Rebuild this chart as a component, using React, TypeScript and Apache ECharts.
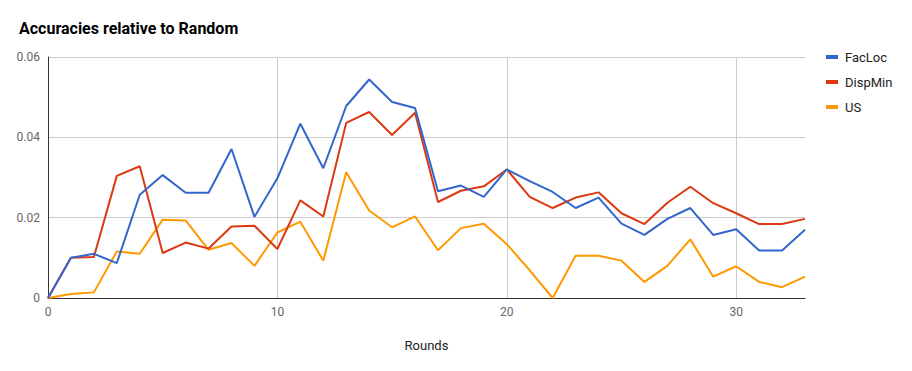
import React, { useEffect, useRef } from "react";
import * as echarts from "echarts";

const rounds = Array.from({ length: 34 }, (_, i) => i);
const facLoc = [0, 0.0100, 0.0110, 0.0087, 0.0257, 0.0306, 0.0262, 0.0262, 0.0371, 0.0202, 0.0298,
  0.0434, 0.0323, 0.0478, 0.0544, 0.0488, 0.0473, 0.0266, 0.0280, 0.0252, 0.0320,
  0.0291, 0.0264, 0.0224, 0.0250, 0.0185, 0.0157, 0.0197, 0.0224, 0.0157, 0.0171, 0.0118, 0.0118, 0.0170];
const dispMin = [0, 0.0100, 0.0102, 0.0304, 0.0328, 0.0112, 0.0138, 0.0123, 0.0178, 0.0180, 0.0122,
  0.0243, 0.0203, 0.0436, 0.0463, 0.0406, 0.0461, 0.0239, 0.0267, 0.0278, 0.0320,
  0.0252, 0.0224, 0.0250, 0.0263, 0.0211, 0.0184, 0.0237, 0.0277, 0.0236, 0.0211, 0.0184, 0.0184, 0.0197];
const us = [0, 0.0010, 0.0014, 0.0116, 0.0110, 0.0195, 0.0193, 0.0120, 0.0137, 0.0080, 0.0163,
  0.0190, 0.0093, 0.0313, 0.0218, 0.0176, 0.0203, 0.0119, 0.0174, 0.0185, 0.0134,
  0.0069, 0, 0.0105, 0.0105, 0.0093, 0.0040, 0.0080, 0.0146, 0.0053, 0.0079, 0.0040, 0.0027, 0.0053];
const seriesNames = ["FacLoc", "DispMin", "US"];
const colors = ["#3366cc", "#dc3912", "#ff9900"];

export default function App() {
  const ref = useRef<HTMLDivElement>(null);
  useEffect(() => {
    const chart = echarts.init(ref.current!, null, { renderer: "svg" });
    const all = [facLoc, dispMin, us];
    chart.setOption({
      animation: false,
      textStyle: { fontFamily: "Roboto" },
      title: {
        text: "Accuracies relative to Random",
        left: 6,
        top: 7,
        textStyle: { fontSize: 16, fontWeight: "bold", color: "#000", fontFamily: "Roboto" },
      },
      legend: {
        orient: "vertical",
        left: 813,
        top: 36,
        itemWidth: 12,
        itemHeight: 4,
        itemGap: 9,
        icon: "rect",
        textStyle: { fontSize: 13, color: "#222", lineHeight: 16, fontFamily: "Roboto", padding: [0, 0, 0, 2] },
        data: seriesNames,
      },
      grid: { left: 40, right: 99, top: 49, bottom: 65 },
      xAxis: {
        type: "value",
        min: 0,
        max: 33,
        interval: 10,
        name: "Rounds",
        nameLocation: "middle",
        nameGap: 41,
        nameTextStyle: { fontSize: 13, color: "#222" },
        axisLine: { show: true, lineStyle: { color: "#333", width: 1 } },
        axisTick: { show: false },
        axisLabel: { color: "#666", fontSize: 12, margin: 8, showMaxLabel: false },
        splitLine: { show: true, showMinLine: false, showMaxLine: false, lineStyle: { color: "#ccc", width: 1 } },
      },
      yAxis: {
        type: "value",
        min: 0,
        max: 0.06,
        interval: 0.02,
        axisLine: { show: true, lineStyle: { color: "#333", width: 1 } },
        axisTick: { show: false },
        axisLabel: {
          color: "#666",
          fontSize: 12,
          margin: 8,
          formatter: (v: number) => (v === 0 ? "0" : v.toFixed(2)),
        },
        splitLine: { show: true, showMinLine: false, lineStyle: { color: "#ccc", width: 1 } },
      },
      series: seriesNames.map((name, k) => ({
        name,
        type: "line",
        data: rounds.map((r, i) => [r, all[k][i]]),
        showSymbol: false,
        symbol: "none",
        color: colors[k],
        lineStyle: { width: 2, color: colors[k] },
        z: 3 - k + 2,
      })),
    });
    return () => chart.dispose();
  }, []);
  return <div ref={ref} style={{ width: 896, height: 355 }} />;
}
